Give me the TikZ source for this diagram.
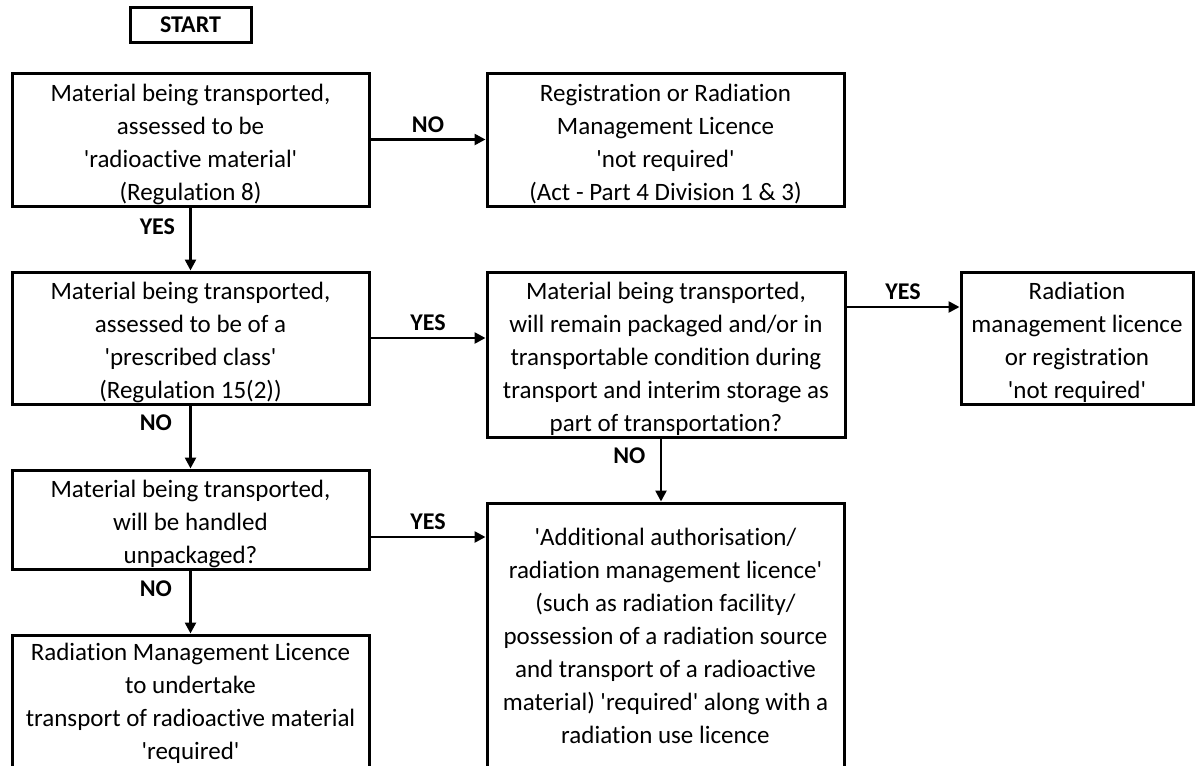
\documentclass[tikz,border=0pt]{standalone}
\usepackage{fontspec}
\setmainfont{Carlito}[Ligatures={NoCommon}]
\usepackage{tikz}
\usetikzlibrary{arrows.meta}

\newcommand{\squote}[1]{\textquotesingle#1\textquotesingle}
\newcommand{\lowr}{\rule{0pt}{27pt}}

\begin{document}
\begin{tikzpicture}[x=1pt, y=-1pt,
        box/.style={draw, line width=3pt, align=center, inner sep=0pt,
            font=\fontsize{25}{33}\selectfont},
        flow/.style={line width=2.5pt, -{Triangle[length=11pt, width=11pt]}},
        answer/.style={inner sep=0pt, font=\fontsize{24}{28}\selectfont\bfseries}]
        \useasboundingbox (0,0) rectangle (1195,766);
        \clip (0,0) rectangle (1195,766);

        % Boxes --  --  --  --  --  --  --  --  --  --  --  --  --  --  --
        \node[box, minimum width=121pt, minimum height=35pt,
            font=\fontsize{24}{28}\selectfont\bfseries] (start) at (190.5,24.5) {START};

        % left column
        \node[box, minimum width=357pt, minimum height=133pt] (radmat) at (190.5,139.5)
            {\lowr Material being transported,\\ assessed to be\\ \squote{radioactive material}\\ (Regulation 8)};
        \node[box, minimum width=357pt, minimum height=132pt] (prescr) at (190.5,338)
            {\lowr Material being transported,\\ assessed to be of a\\ \squote{prescribed class}\\ (Regulation 15(2))};
        \node[box, minimum width=357pt, minimum height=99pt] (unpack) at (190.5,519.5)
            {\lowr Material being transported,\\ will be handled\\ unpackaged?};
        \node[box, minimum width=357pt, minimum height=137pt] (rmlreq) at (190.5,703.5)
            {Radiation Management Licence\\ to undertake\\ transport of radioactive material\\ \squote{required}};

        % middle column
        \node[box, minimum width=357pt, minimum height=133pt] (regnot) at (665.5,139.5)
            {\lowr Registration or Radiation\\ Management Licence\\ \squote{not required}\\ (Act - Part 4 Division 1 \& 3)};
        \node[box, minimum width=358pt, minimum height=165pt] (packed) at (666,354.5)
            {\lowr Material being transported,\\ will remain packaged and/or in\\ transportable condition during\\ transport and interim storage as\\ part of transportation?};
        \node[box, minimum width=357pt, minimum height=266pt] (addauth) at (665.5,636)
            {\squote{Additional authorisation/\\ radiation management licence}\\ (such as radiation facility/\\ possession of a radiation source\\ and transport of a radioactive\\ material) \squote{required} along with a\\ radiation use licence};

        % right column
        \node[box, minimum width=232pt, minimum height=132pt] (notreq) at (1077,338)
            {\lowr Radiation\\ management licence\\ or registration\\ \squote{not required}};
        %  --  --  --  --  --  --  --  --  --  --  --  --  --  --  --  --

        % Connectors --  --  --  --  --  --  --  --  --  --  --  --  --  -
        \draw[flow] (radmat.east) -- (regnot.west)
            node[answer, midway, above=6pt] {NO};
        \draw[flow] (radmat.south) -- (prescr.north)
            node[answer, pos=.3, anchor=west, xshift=-52pt] {YES};

        \draw[flow] (prescr.east) -- (prescr.east -| packed.west)
            node[answer, midway, above=6pt] {YES};
        \draw[flow] (prescr.south) -- (unpack.north)
            node[answer, pos=.27, anchor=west, xshift=-52pt] {NO};

        \draw[flow] ([yshift=47.5pt]packed.east) -- ([yshift=31pt]notreq.west)
            node[answer, midway, above=6pt] {YES};
        \draw[flow] ([xshift=-5pt]packed.south) -- ([xshift=-5pt]packed.south |- addauth.north)
            node[answer, pos=.27, anchor=west, xshift=-49pt] {NO};

        \draw[flow] ([yshift=-17.5pt]unpack.east) -- ([yshift=-17.5pt]unpack.east -| addauth.west)
            node[answer, midway, above=6pt] {YES};
        \draw[flow] (unpack.south) -- (rmlreq.north)
            node[answer, pos=.29, anchor=west, xshift=-52pt] {NO};
        %  --  --  --  --  --  --  --  --  --  --  --  --  --  --  --  --
    \end{tikzpicture}
\end{document}
